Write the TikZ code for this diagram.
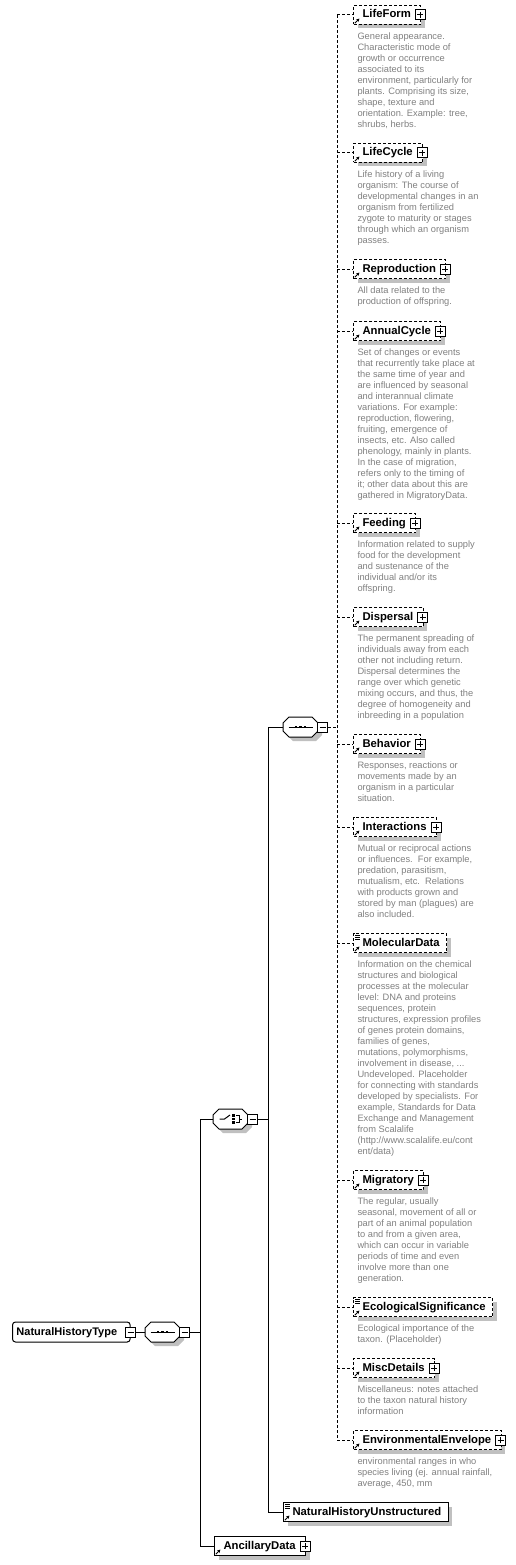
\documentclass[tikz,border=0pt]{standalone}
\usepackage{fontspec}
\setmainfont{Liberation Sans}
\usepackage{tikz}
\usetikzlibrary{positioning, shadows, arrows.meta}
\definecolor{descgray}{RGB}{128,128,128}
\definecolor{shadowgray}{RGB}{192,192,192}
\newcommand{\refarrow}{\draw[solid, line width=0.9pt, -{Stealth[length=3.2pt, width=3.4pt]}] ([shift={(1.3pt,1.3pt)}]path picture bounding box.south west) -- ++(4.6pt,4.6pt);}
\newcommand{\doclines}{\foreach \k in {1.8,3.8,5.8} \draw[solid, line width=0.8pt] ([shift={(1.5pt,-\k pt)}]path picture bounding box.north west) -- ++(5pt,0pt);}
\newcommand{\compframe}[1]{%
  \begin{scope}[transform canvas={shift={(4pt,-4pt)}}]
    \fill[shadowgray] ([yshift=4pt]#1.west) -- ([xshift=6pt]#1.north west) -- ([xshift=-6pt]#1.north east) -- ([yshift=4pt]#1.east) -- ([yshift=-4pt]#1.east) -- ([xshift=-6pt]#1.south east) -- ([xshift=6pt]#1.south west) -- ([yshift=-4pt]#1.west) -- cycle;
  \end{scope}
  \draw[fill=white] ([yshift=4pt]#1.west) -- ([xshift=6pt]#1.north west) -- ([xshift=-6pt]#1.north east) -- ([yshift=4pt]#1.east) -- ([yshift=-4pt]#1.east) -- ([xshift=-6pt]#1.south east) -- ([xshift=6pt]#1.south west) -- ([yshift=-4pt]#1.west) -- cycle;}
\newcommand{\seqmark}[1]{%
  \draw (#1.center) +(-12pt,0pt) -- +(12pt,0pt);
  \foreach \d in {-4.5,0,4.5} \fill[black] ([xshift=\d pt]#1.center) +(-1.4pt,-1.2pt) rectangle +(1.4pt,1.2pt);}
\newcommand{\choicemark}[1]{%
  \draw (#1.center) +(-11pt,0pt) -- +(-6pt,0pt) -- +(-0.5pt,4pt);
  \foreach \d in {-3.5,0,3.5} \fill[black] ([shift={(3pt,\d pt)}]#1.center) +(-1.3pt,-1.2pt) rectangle +(1.3pt,1.2pt);
  \draw (#1.center) +(5.5pt,3.5pt) -- +(8.5pt,3.5pt) -- +(8.5pt,-3.5pt) -- +(5.5pt,-3.5pt) +(8.5pt,0pt) -- +(11pt,0pt);}

\begin{document}
\begin{tikzpicture}[x=1pt, y=-1pt, line width=1pt,
  elem/.style={draw, fill=white, anchor=west, minimum height=19pt, inner xsep=0pt, inner ysep=0pt,
    text height=8pt, text depth=2pt, font=\fontsize{11.3}{13}\selectfont\bfseries,
    drop shadow={shadow xshift=4pt, shadow yshift=-4pt, fill=shadowgray, opacity=1},
    path picture={\refarrow}},
  docelem/.style={path picture={\refarrow\doclines}},
  opt/.style={dash pattern=on 3pt off 2pt},
  withplus/.style={execute at begin node=\hspace*{9pt}, execute at end node=\hspace*{10pt}},
  noplus/.style={execute at begin node=\hspace*{9pt}, execute at end node=\hspace*{7pt}},
  desc/.style={anchor=north west, inner sep=0pt, align=left, text=descgray,
    font=\fontsize{9.3}{11}\selectfont, execute at begin node=\strut},
  plusbox/.style={draw, fill=white, minimum size=10pt, inner sep=0pt,
    path picture={\draw ([xshift=2pt]path picture bounding box.west) -- ([xshift=-2pt]path picture bounding box.east);
      \draw ([yshift=2pt]path picture bounding box.south) -- ([yshift=-2pt]path picture bounding box.north);}},
  minusbox/.style={draw, fill=white, minimum size=10pt, inner sep=0pt,
    path picture={\draw ([xshift=2pt]path picture bounding box.west) -- ([xshift=-2pt]path picture bounding box.east);}},
  comp/.style={minimum width=35pt, minimum height=20pt, inner sep=0pt, outer sep=0pt},
  typebox/.style={draw, fill=white, rounded corners=3pt, anchor=west, minimum height=20pt, inner xsep=0pt, inner ysep=0pt,
    text height=8pt, text depth=2pt, font=\fontsize{11}{13}\selectfont\bfseries,
    execute at begin node=\hspace*{4pt}, execute at end node=\hspace*{13pt}}]
\useasboundingbox (0,0) rectangle (516,1565);

\node[typebox] (nhtype) at (12,1332) {NaturalHistoryType};
\node[minusbox] (nhtypeM) at (nhtype.east) {};

\node[comp] (outerseq) at (162.5,1332) {};
\compframe{outerseq}
\seqmark{outerseq}
\node[minusbox, anchor=west] (outerseqM) at ([xshift=-1pt]outerseq.east) {};

\node[comp] (choice) at (230.5,1119) {};
\compframe{choice}
\choicemark{choice}
\node[minusbox, anchor=west] (choiceM) at ([xshift=-1pt]choice.east) {};

\node[comp] (innerseq) at (300.5,727) {};
\compframe{innerseq}
\seqmark{innerseq}
\node[minusbox, anchor=west] (innerseqM) at ([xshift=-1pt]innerseq.east) {};

\node[elem, opt, withplus] (lifeform) at (353,15) {LifeForm};
\node[plusbox] (lifeformP) at ([xshift=-1pt]lifeform.east) {};
\node[desc, below right=7pt and 4pt of lifeform.south west] (lifeformD) {General appearance.\\Characteristic mode of\\growth or occurrence\\associated to its\\environment, particularly for\\plants. Comprising its size,\\shape, texture and\\orientation. Example: tree,\\shrubs, herbs.};

\node[elem, opt, withplus] (lifecycle) at (353,153) {LifeCycle};
\node[plusbox] (lifecycleP) at ([xshift=-1pt]lifecycle.east) {};
\node[desc, below right=7pt and 4pt of lifecycle.south west] (lifecycleD) {Life history of a living\\organism: The course of\\developmental changes in an\\organism from fertilized\\zygote to maturity or stages\\through which an organism\\passes.};

\node[elem, opt, withplus] (reproduction) at (353,269) {Reproduction};
\node[plusbox] (reproductionP) at ([xshift=-1pt]reproduction.east) {};
\node[desc, below right=7pt and 4pt of reproduction.south west] (reproductionD) {All data related to the\\production of offspring.};

\node[elem, opt, withplus] (annualcycle) at (353,331) {AnnualCycle};
\node[plusbox] (annualcycleP) at ([xshift=-1pt]annualcycle.east) {};
\node[desc, below right=7pt and 4pt of annualcycle.south west] (annualcycleD) {Set of changes or events\\that recurrently take place at\\the same time of year and\\are influenced by seasonal\\and interannual climate\\variations. For example:\\reproduction, flowering,\\fruiting, emergence of\\insects, etc. Also called\\phenology, mainly in plants.\\In the case of migration,\\refers only to the timing of\\it; other data about this are\\gathered in MigratoryData.};

\node[elem, opt, withplus] (feeding) at (353,523) {Feeding};
\node[plusbox] (feedingP) at ([xshift=-1pt]feeding.east) {};
\node[desc, below right=7pt and 4pt of feeding.south west] (feedingD) {Information related to supply\\food for the development\\and sustenance of the\\individual and/or its\\offspring.};

\node[elem, opt, withplus] (dispersal) at (353,617) {Dispersal};
\node[plusbox] (dispersalP) at ([xshift=-1pt]dispersal.east) {};
\node[desc, below right=7pt and 4pt of dispersal.south west] (dispersalD) {The permanent spreading of\\individuals away from each\\other not including return.\\Dispersal determines the\\range over which genetic\\mixing occurs, and thus, the\\degree of homogeneity and\\inbreeding in a population};

\node[elem, opt, withplus] (behavior) at (353,744) {Behavior};
\node[plusbox] (behaviorP) at ([xshift=-1pt]behavior.east) {};
\node[desc, below right=7pt and 4pt of behavior.south west] (behaviorD) {Responses, reactions or\\movements made by an\\organism in a particular\\situation.};

\node[elem, opt, withplus] (interactions) at (353,827) {Interactions};
\node[plusbox] (interactionsP) at ([xshift=-1pt]interactions.east) {};
\node[desc, below right=7pt and 4pt of interactions.south west] (interactionsD) {Mutual or reciprocal actions\\or influences.\ \ For example,\\predation, parasitism,\\mutualism, etc.\ \ Relations\\with products grown and\\stored by man (plagues) are\\also included.};

\node[elem, opt, noplus, docelem] (moleculardata) at (353,943) {MolecularData};
\node[desc, below right=7pt and 4pt of moleculardata.south west] (moleculardataD) {Information on the chemical\\structures and biological\\processes at the molecular\\level: DNA and proteins\\sequences, protein\\structures, expression profiles\\of genes protein domains,\\families of genes,\\mutations, polymorphisms,\\involvement in disease, ...\\Undeveloped. Placeholder\\for connecting with standards\\developed by specialists. For\\example, Standards for Data\\Exchange and Management\\from Scalalife\\(http://www.scalalife.eu/cont\\ent/data)};

\node[elem, opt, withplus] (migratory) at (353,1180) {Migratory};
\node[plusbox] (migratoryP) at ([xshift=-1pt]migratory.east) {};
\node[desc, below right=7pt and 4pt of migratory.south west] (migratoryD) {The regular, usually\\seasonal, movement of all or\\part of an animal population\\to and from a given area,\\which can occur in variable\\periods of time and even\\involve more than one\\generation.};

\node[elem, opt, noplus, docelem] (ecosig) at (353,1307) {EcologicalSignificance};
\node[desc, below right=7pt and 4pt of ecosig.south west] (ecosigD) {Ecological importance of the\\taxon. (Placeholder)};

\node[elem, opt, withplus] (miscdetails) at (353,1368) {MiscDetails};
\node[plusbox] (miscdetailsP) at ([xshift=-1pt]miscdetails.east) {};
\node[desc, below right=7pt and 4pt of miscdetails.south west] (miscdetailsD) {Miscellaneus: notes attached\\to the taxon natural history\\information};

\node[elem, opt, withplus] (envenvelope) at (353,1440) {EnvironmentalEnvelope};
\node[plusbox] (envenvelopeP) at ([xshift=-1pt]envenvelope.east) {};
\node[desc, below right=7pt and 4pt of envenvelope.south west] (envenvelopeD) {environmental ranges in who\\species living (ej. annual rainfall,\\average, 450, mm};

\node[elem, noplus, docelem] (nhunstructured) at (283,1512) {NaturalHistoryUnstructured};

\node[elem, withplus] (ancillary) at (214,1546) {AncillaryData};
\node[plusbox] (ancillaryP) at ([xshift=-1pt]ancillary.east) {};

\coordinate (busA) at (200,1332);
\coordinate (busB) at (268,1119);
\coordinate (busC) at (337,727);

\draw (nhtypeM.east) -- (outerseq.west);
\draw (outerseqM.east) -- (busA);
\draw (busA) |- (choice.west);
\draw (busA) |- (ancillary.west);
\draw (choiceM.east) -- (busB);
\draw (busB) |- (innerseq.west);
\draw (busB) |- (nhunstructured.west);
\draw[opt] (innerseqM.east) -- (busC);
\draw[opt] (busC |- lifeform.west) -- (busC |- envenvelope.west);
\draw[opt] (busC |- lifeform.west) -- (lifeform.west);
\draw[opt] (busC |- lifecycle.west) -- (lifecycle.west);
\draw[opt] (busC |- reproduction.west) -- (reproduction.west);
\draw[opt] (busC |- annualcycle.west) -- (annualcycle.west);
\draw[opt] (busC |- feeding.west) -- (feeding.west);
\draw[opt] (busC |- dispersal.west) -- (dispersal.west);
\draw[opt] (busC |- behavior.west) -- (behavior.west);
\draw[opt] (busC |- interactions.west) -- (interactions.west);
\draw[opt] (busC |- moleculardata.west) -- (moleculardata.west);
\draw[opt] (busC |- migratory.west) -- (migratory.west);
\draw[opt] (busC |- ecosig.west) -- (ecosig.west);
\draw[opt] (busC |- miscdetails.west) -- (miscdetails.west);
\draw[opt] (busC |- envenvelope.west) -- (envenvelope.west);
\end{tikzpicture}
\end{document}
